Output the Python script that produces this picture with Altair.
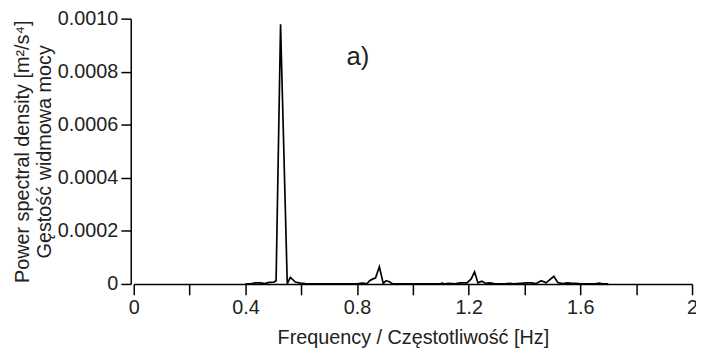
import altair as alt
import pandas as pd

# Spectrum (frequency in Hz, PSD in m^2/s^4)
freq = [0.40, 0.42, 0.436, 0.454, 0.470, 0.485, 0.502, 0.510, 0.526, 0.550,
        0.561, 0.579, 0.597, 0.615, 0.633, 0.80, 0.817, 0.827, 0.835, 0.845,
        0.857, 0.866, 0.880, 0.890, 0.894, 0.904, 0.916, 0.928, 1.095, 1.105,
        1.115, 1.129, 1.150, 1.170, 1.194, 1.209, 1.221, 1.233, 1.247, 1.261,
        1.277, 1.294, 1.330, 1.348, 1.360, 1.410, 1.425, 1.440, 1.460, 1.477,
        1.505, 1.519, 1.536, 1.554, 1.570, 1.584, 1.600, 1.655, 1.667, 1.680,
        1.700]
psd = [0.0, 0.0, 0.000004, 0.000004, 0.000001, 0.000006, 0.000007, 0.000012, 0.000979, 0.000001,
       0.000025, 0.000007, 0.000003, 0.000001, 0.0, 0.0, 0.000003, 0.000002, 0.0, 0.000012,
       0.000019, 0.000022, 0.000065, 0.000019, 0.000002, 0.000012, 0.000008, 0.0, 0.0, 0.000003,
       0.0, 0.000002, 0.0, 0.000004, 0.000004, 0.000019, 0.000046, 0.000004, 0.000010, 0.000002,
       0.000004, 0.0, 0.0, 0.000002, 0.0, 0.000004, 0.000004, 0.000001, 0.000012, 0.000004,
       0.000029, 0.000005, 0.000001, 0.000004, 0.000002, 0.000002, 0.0, 0.0, 0.000003, 0.0,
       0.0]

x_ticks = [0, 0.1, 0.2, 0.3, 0.4, 0.5, 0.6, 0.7, 0.8, 0.9, 1.0,
           1.1, 1.2, 1.3, 1.4, 1.5, 1.6, 1.7, 1.8, 1.9, 2.0]
y_ticks = [0, 0.0002, 0.0004, 0.0006, 0.0008, 0.0010]

panel_label = ["a)"]
panel_x = [0.762]
panel_y = [0.000826]

FONT = "Liberation Sans"
FS = 20

df = pd.DataFrame({"f": freq, "p": psd})
lab = pd.DataFrame({"t": panel_label, "x": panel_x, "y": panel_y})

xscale = alt.Scale(domain=[0, 2], nice=False, zero=False)
yscale = alt.Scale(domain=[0, 0.001], nice=False)

line = alt.Chart(df).mark_line(color="black", strokeWidth=1.7).encode(
    x=alt.X("f:Q", scale=xscale,
            axis=alt.Axis(values=x_ticks, title="Frequency / Częstotliwość [Hz]",
                          labelExpr="round(datum.value*10) % 4 == 0 ? format(datum.value, '~g') : ''",
                          tickSize=11, labelPadding=3, titlePadding=10,
                          labelFlush=False, grid=False)),
    y=alt.Y("p:Q", scale=yscale,
            axis=alt.Axis(values=y_ticks,
                          title=["Power spectral density [m²/s⁴]", "Gęstość widmowa mocy"],
                          labelExpr="datum.value == 0 ? '0' : format(datum.value, '.4f')",
                          tickSize=10, labelPadding=3, titlePadding=3, offset=3,
                          titleLineHeight=22, labelFlush=False, grid=False)),
)

text = alt.Chart(lab).mark_text(align="left", baseline="alphabetic", font=FONT,
                                fontSize=26, color="#222222").encode(
    x=alt.X("x:Q", scale=xscale), y=alt.Y("y:Q", scale=yscale), text="t:N")

chart = (line + text).properties(
    width=564, height=268,
    autosize=alt.AutoSizeParams(type="none"),
    padding={"left": 127, "top": 9, "right": 4, "bottom": 66},
).configure_view(stroke=None).configure_axis(
    labelFont=FONT, titleFont=FONT, labelFontSize=FS, titleFontSize=FS,
    labelColor="#222222", titleColor="#222222", titleFontWeight="normal",
    domainColor="black", tickColor="black", domainWidth=1.5, tickWidth=1.5,
)

chart.save("out.html", embed_options={"renderer": "svg", "actions": False})
